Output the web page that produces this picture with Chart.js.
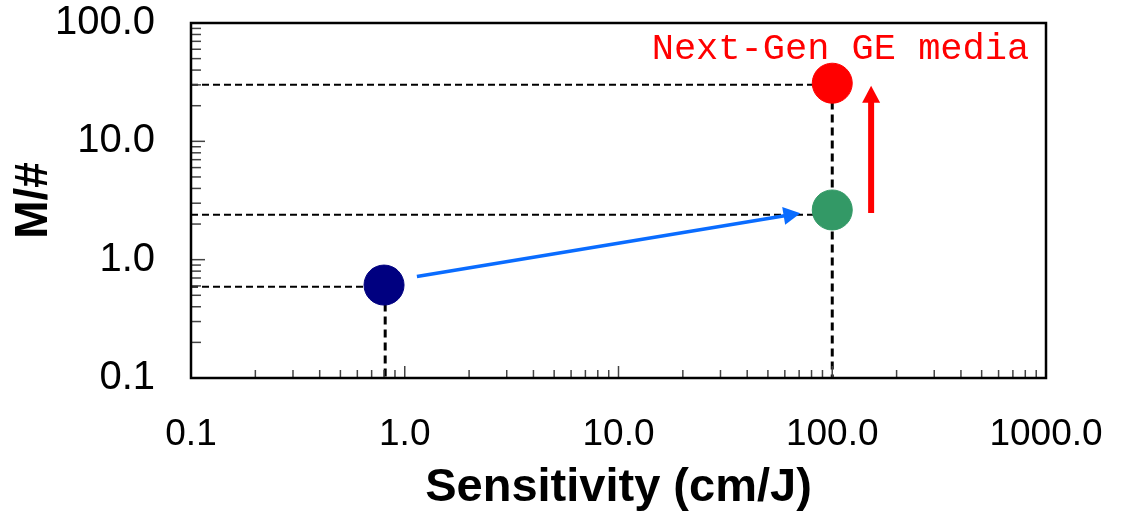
<!DOCTYPE html>
<html>
<head>
<meta charset="utf-8">
<script src="https://cdn.jsdelivr.net/npm/chart.js@4.4.1/dist/chart.umd.min.js"></script>
<style>
  html, body { margin: 0; padding: 0; background: #fff; }
</style>
</head>
<body>
<canvas id="chart" width="1124" height="515"></canvas>
<script>
// axis decades
const xTicks = [0.1, 1, 10, 100, 1000];
const yTicks = [0.1, 1, 10, 100];

// media points: sensitivity (cm/J) vs M/#
const mediaNames = ['current', 'improved', 'next-gen'];
const sensitivity = [0.8, 100, 100];
const mNumber = [0.61, 2.63, 31];

// dashed read-off lines
const hGuideY = [0.59, 2.4, 30];
const hGuideEnd = [0.8, 100, 100];
const vGuideX = [0.81, 100];
const vGuideTop = [0.55, 28];

// arrows (start -> tip)
const arrowStart = [{x: 1.14, y: 0.72}, {x: 152, y: 2.48}];
const arrowTip = [{x: 71, y: 2.47}, {x: 152, y: 29.5}];

const noteText = 'Next-Gen GE media';
const notePos = {x: 14.3, y: 50};

const FONT = "'Liberation Sans', Arial, sans-serif";
const pointColors = ['#000080', '#339966', '#ff0000'];
const arrowColors = ['#0a6cff', '#ff0000'];
const arrowWidths = [3.5, 6];
const arrowHeads = [{len: 17, half: 9}, {len: 17, half: 9}];

const guideSets = [];
hGuideY.forEach((v, i) => guideSets.push({
  data: [{x: 0.1, y: v}, {x: hGuideEnd[i], y: v}],
  showLine: true, borderColor: '#000', borderWidth: 2, borderDash: [7, 4],
  pointRadius: 0, order: 2
}));
vGuideX.forEach((v, i) => guideSets.push({
  data: [{x: v, y: vGuideTop[i]}, {x: v, y: 0.1}],
  showLine: true, borderColor: '#000', borderWidth: 3, borderDash: [8, 5],
  pointRadius: 0, order: 2
}));

const decor = {
  id: 'decor',
  afterDatasetsDraw(chart) {
    const {ctx, chartArea: a, scales: {x, y}} = chart;
    ctx.save();
    // minor ticks inside the left and bottom axes
    ctx.strokeStyle = '#444';
    ctx.lineWidth = 1.5;
    for (let e = -1; e <= 2; e++) {
      for (let k = 1; k <= 9; k++) {
        const v = k * Math.pow(10, e);
        const px = x.getPixelForValue(v);
        const lx = k === 1 ? 12 : 8;
        ctx.beginPath(); ctx.moveTo(px, a.bottom); ctx.lineTo(px, a.bottom - lx); ctx.stroke();
        if (v <= 100) {
          const py = y.getPixelForValue(v);
          const ly = k === 1 ? 14 : 10;
          ctx.beginPath(); ctx.moveTo(a.left, py); ctx.lineTo(a.left + ly, py); ctx.stroke();
        }
      }
    }
    // frame
    ctx.strokeStyle = '#000';
    ctx.lineWidth = 2.5;
    ctx.strokeRect(a.left, a.top, a.right - a.left, a.bottom - a.top);

    // arrows
    arrowStart.forEach((s, i) => {
      const x0 = x.getPixelForValue(s.x), y0 = y.getPixelForValue(s.y);
      const x1 = x.getPixelForValue(arrowTip[i].x), y1 = y.getPixelForValue(arrowTip[i].y);
      const ang = Math.atan2(y1 - y0, x1 - x0);
      const h = arrowHeads[i];
      const bx = x1 - Math.cos(ang) * h.len, by = y1 - Math.sin(ang) * h.len;
      ctx.strokeStyle = arrowColors[i];
      ctx.fillStyle = arrowColors[i];
      ctx.lineWidth = arrowWidths[i];
      ctx.beginPath(); ctx.moveTo(x0, y0); ctx.lineTo(bx + Math.cos(ang), by + Math.sin(ang)); ctx.stroke();
      ctx.beginPath();
      ctx.moveTo(x1, y1);
      ctx.lineTo(bx - Math.sin(ang) * h.half, by + Math.cos(ang) * h.half);
      ctx.lineTo(bx + Math.sin(ang) * h.half, by - Math.cos(ang) * h.half);
      ctx.closePath(); ctx.fill();
    });

    // note
    ctx.fillStyle = '#ff0000';
    ctx.font = "37px 'Liberation Mono', 'Courier New', monospace";
    ctx.textAlign = 'left';
    ctx.textBaseline = 'alphabetic';
    ctx.fillText(noteText, x.getPixelForValue(notePos.x), y.getPixelForValue(notePos.y));
    ctx.restore();
  }
};

new Chart(document.getElementById('chart'), {
  type: 'scatter',
  data: {
    datasets: [{
      label: 'media',
      data: sensitivity.map((s, i) => ({x: s, y: mNumber[i]})),
      backgroundColor: pointColors,
      borderColor: pointColors,
      pointRadius: 20,
      pointHoverRadius: 20,
      order: 0
    }, ...guideSets]
  },
  options: {
    responsive: false,
    animation: false,
    devicePixelRatio: 1,
    layout: {padding: {left: 0, top: 23, right: 78, bottom: 0}},
    plugins: {legend: {display: false}, tooltip: {enabled: false}},
    scales: {
      x: {
        type: 'logarithmic',
        min: 0.1, max: 1000,
        afterBuildTicks: (s) => { s.ticks = xTicks.map(v => ({value: v})); },
        afterFit: (s) => { s.height = 137; s.paddingLeft = 0; s.paddingRight = 0; },
        grid: {display: false, drawTicks: false},
        border: {display: false},
        ticks: {
          callback: (v) => Number(v).toFixed(1),
          maxRotation: 0, autoSkip: false, padding: 35,
          color: '#000', font: {family: FONT, size: 37}
        },
        title: {
          display: true, text: 'Sensitivity (cm/J)', color: '#000',
          font: {family: FONT, size: 47, weight: 'bold'},
          padding: {top: 0, bottom: -1}
        }
      },
      y: {
        type: 'logarithmic',
        min: 0.1, max: 100,
        afterBuildTicks: (s) => { s.ticks = yTicks.map(v => ({value: v})); },
        afterFit: (s) => { s.width = 191; s.paddingTop = 0; s.paddingBottom = 0; },
        grid: {display: false, drawTicks: false},
        border: {display: false},
        ticks: {
          callback: (v) => Number(v).toFixed(1),
          autoSkip: false, padding: 36,
          color: '#000', font: {family: FONT, size: 40}
        },
        title: {
          display: true, text: 'M/#', color: '#000',
          font: {family: FONT, size: 46, weight: 'bold'},
          padding: {top: 7, bottom: 0}
        }
      }
    }
  },
  plugins: [decor]
});
</script>
</body>
</html>
